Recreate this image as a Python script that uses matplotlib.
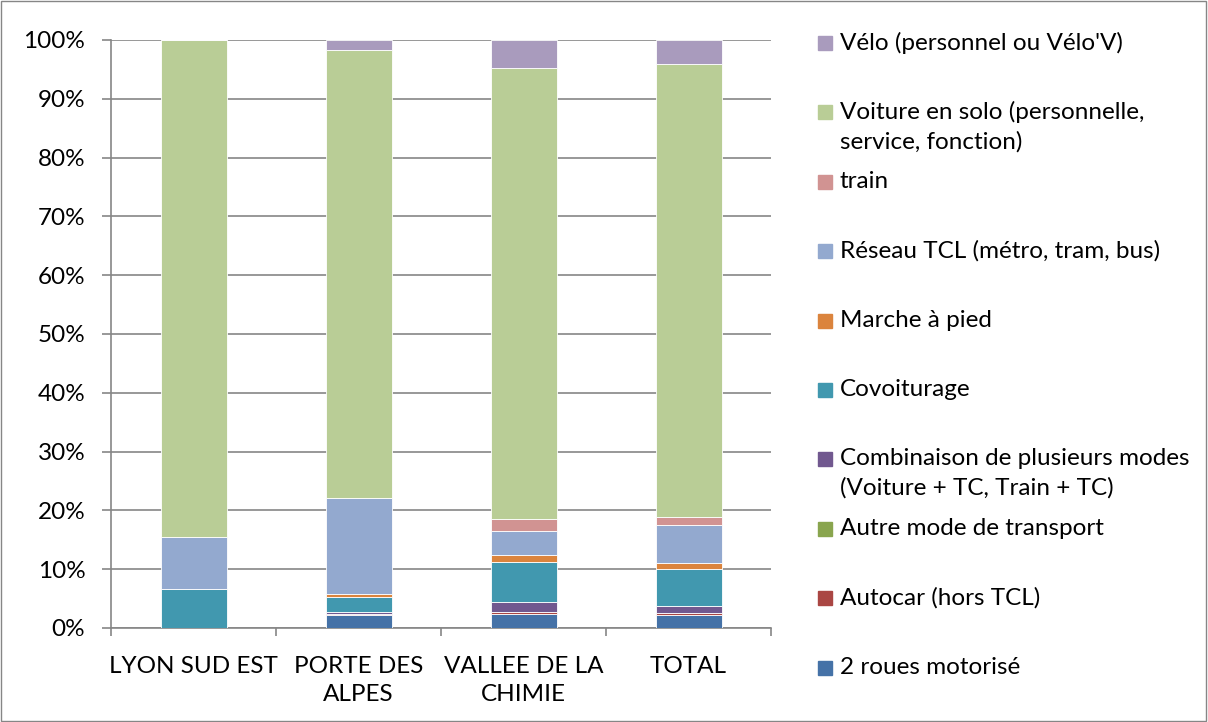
import numpy as np
import matplotlib.pyplot as plt
from matplotlib.patches import Rectangle

# données (en %)
categories = ['LYON SUD EST', 'PORTE DES\nALPES', 'VALLEE DE LA\nCHIMIE', 'TOTAL']

modes = ['2 roues motorisé', 'Autocar (hors TCL)', 'Autre mode de transport',
         'Combinaison de plusieurs modes\n(Voiture + TC, Train + TC)', 'Covoiturage',
         'Marche à pied', 'Réseau TCL (métro, tram, bus)', 'train',
         'Voiture en solo (personnelle,\nservice, fonction)', "Vélo (personnel ou Vélo'V)"]

deux_roues = [0.0, 2.2, 2.3, 2.2]
autocar = [0.0, 0.1, 0.4, 0.3]
autre = [0.0, 0.0, 0.0, 0.0]
combinaison = [0.0, 0.5, 1.7, 1.3]
covoiturage = [6.6, 2.4, 6.8, 6.2]
marche = [0.0, 0.5, 1.3, 1.0]
tcl = [8.8, 16.4, 4.0, 6.5]
train = [0.0, 0.0, 2.0, 1.4]
voiture = [84.6, 76.2, 76.8, 77.1]
velo = [0.0, 1.7, 4.7, 4.0]

series = [deux_roues, autocar, autre, combinaison, covoiturage, marche, tcl, train, voiture, velo]
colors = ['#4572A7', '#AA4643', '#89A54E', '#71588F', '#4198AF',
          '#DB843D', '#93A9CF', '#D19392', '#B9CD96', '#A99BBD']

plt.rcParams['font.family'] = ['Lato', 'DejaVu Sans']
grey = '#868686'
fs = 17.5

fig = plt.figure(figsize=(12.08, 7.22), dpi=100)
ax = fig.add_axes([111 / 1208, 1 - 628 / 722, 660 / 1208, 588 / 722])

x = np.arange(len(categories))
bottom = np.zeros(len(categories))
for vals, col in zip(series, colors):
    ax.bar(x, vals, 0.4, bottom=bottom, color=col, edgecolor='white', linewidth=0.6, zorder=3)
    bottom += np.array(vals)

ax.set_xlim(-0.5, 3.5)
ax.set_ylim(0, 100)
ax.set_yticks(np.arange(0, 101, 10))
ax.set_yticklabels([f'{v}%' for v in range(0, 101, 10)], fontsize=fs)
ax.yaxis.grid(True, color=grey, linewidth=1.2, zorder=0)
ax.set_xticks(x)
ax.set_xticklabels(categories, fontsize=fs, linespacing=1.45)
ax.set_xticks(np.arange(-0.5, 4, 1), minor=True)
ax.tick_params(axis='x', which='major', length=0, pad=20)
ax.tick_params(axis='x', which='minor', length=6, color=grey, width=1.2)
ax.tick_params(axis='y', length=6.5, color=grey, width=1.2, pad=12)
for s in ['top', 'right']:
    ax.spines[s].set_visible(False)
for s in ['left', 'bottom']:
    ax.spines[s].set_color(grey)
    ax.spines[s].set_linewidth(1.2)

# légende à droite
y0, step = 43, 69.4
for i, (lab, col) in enumerate(zip(modes[::-1], colors[::-1])):
    yc = y0 + i * step
    fig.patches.append(Rectangle((818 / 1208, 1 - (yc + 7) / 722), 14 / 1208, 14 / 722,
                                 transform=fig.transFigure, color=col))
    fig.text(840 / 1208, 1 - (yc - 11) / 722, lab, fontsize=fs, va='top', ha='left',
             linespacing=1.45)

# cadre extérieur
fig.patches.append(Rectangle((0.001, 0.001), 0.997, 0.997, transform=fig.transFigure,
                             fill=False, edgecolor=grey, linewidth=1))

fig.savefig('out.png', dpi=100)
